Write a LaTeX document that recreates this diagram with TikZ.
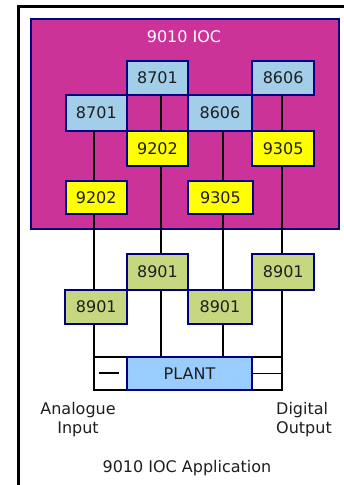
\documentclass[tikz,border=0pt]{standalone}
\usepackage{fontspec}
\setmainfont{DejaVu Sans}
\usetikzlibrary{backgrounds}
\pgfdeclarelayer{wires}
\pgfsetlayers{background,wires,main}
\definecolor{navy}{HTML}{000080}
\definecolor{iocmag}{HTML}{CC3399}
\definecolor{boxblue}{HTML}{A2CEEA}
\definecolor{plantblue}{HTML}{99CCFF}
\definecolor{boxyellow}{HTML}{FFFF00}
\definecolor{boxgreen}{HTML}{C5D87F}
\definecolor{txt}{HTML}{1E1E1E}
\begin{document}
\begin{tikzpicture}[x=1pt,y=-1pt,
  every node/.style={font=\fontsize{16}{19}\selectfont, text=txt},
  box/.style={draw=navy, line width=2pt, inner sep=0pt, rectangle},
  bl/.style={box, fill=boxblue},
  yl/.style={box, fill=boxyellow},
  gr/.style={box, fill=boxgreen},
  wire/.style={draw=black, line width=1.7pt}]
\useasboundingbox (0,0) rectangle (344,485);
% outer frame (only left and top edges visible)
\draw[line width=3pt, line join=miter] (18.5,485) -- (18.5,6.5) -- (344,6.5);
% IOC box
\begin{pgfonlayer}{background}
\node[box, fill=iocmag, minimum width=308pt, minimum height=210pt] (ioc) at (184.5,124) {};
\end{pgfonlayer}
\node[text=white] (title) at (184,37) {9010 IOC};
% wire x positions
\coordinate (L1) at (94.3,0);
\coordinate (L2) at (161.3,0);
\coordinate (L3) at (222.7,0);
\coordinate (L4) at (282,0);
% blue boxes
\node[bl, minimum width=61.6pt, minimum height=34pt] (t8701) at (157.5,77.7) {8701};
\node[bl, minimum width=61.7pt, minimum height=34pt] (t8606) at (283.15,77.7) {8606};
\node[bl, minimum width=61.3pt, minimum height=36pt] (m8701) at (96.35,112.7) {8701};
\node[bl, minimum width=64.6pt, minimum height=36pt] (m8606) at (220,112.7) {8606};
% yellow boxes
\node[yl, minimum width=61.6pt, minimum height=35.3pt] (u9202) at (157.5,148.35) {9202};
\node[yl, minimum width=61.7pt, minimum height=35.3pt] (u9305) at (283.15,148.35) {9305};
\node[yl, minimum width=61pt, minimum height=33pt] (l9202) at (96.2,197.2) {9202};
\node[yl, minimum width=65.6pt, minimum height=33pt] (l9305) at (220.5,197.2) {9305};
% green boxes
\node[gr, minimum width=61.6pt, minimum height=35.7pt] (g1) at (157.5,272.15) {8901};
\node[gr, minimum width=62pt, minimum height=35.7pt] (g2) at (283.3,272.15) {8901};
\node[gr, minimum width=62pt, minimum height=34.3pt] (g3) at (96.3,307.15) {8901};
\node[gr, minimum width=64.6pt, minimum height=34.3pt] (g4) at (220,307.15) {8901};
% plant frame and plant
\node[draw=black, line width=1.7pt, minimum width=187.7pt, minimum height=32.7pt, inner sep=0pt] (frame) at (188.15,373.35) {};
\node[box, fill=plantblue, minimum width=125.6pt, minimum height=32.7pt] (plant) at (189.5,373.35) {PLANT};
% wires (behind the boxes)
\begin{pgfonlayer}{wires}
\draw[wire] (m8701.south -| L1) -- (frame.north -| L1);
\draw[wire] (t8701.south -| L2) -- (frame.north -| L2);
\draw[wire] (m8606.south -| L3) -- (frame.north -| L3);
\draw[wire] (t8606.south -| L4) -- (frame.north -| L4);
\end{pgfonlayer}
\coordinate (d1) at (99.3,373.3);
\coordinate (d2) at (119.3,373.3);
\draw[wire] (d1) -- (d2);
\draw[wire] (plant.east) -- (plant.east -| L4);
% labels
\node[align=center] (ai) at (78,419.5) {Analogue\\Input};
\node[align=left] (do) at (304,419.5) {Digital\\Output};
\node (app) at (187,468) {9010 IOC Application};
\end{tikzpicture}
\end{document}
